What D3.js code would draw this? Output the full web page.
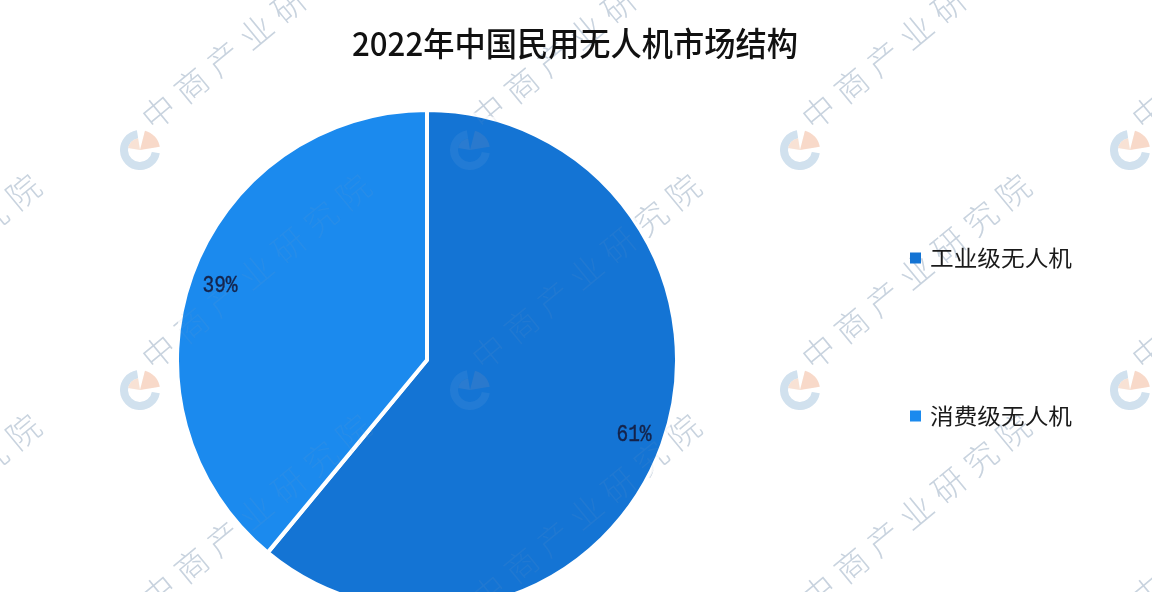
<!DOCTYPE html>
<html><head><meta charset="utf-8">
<script src="https://cdn.jsdelivr.net/npm/d3@7"></script>
<style>html,body{margin:0;padding:0;background:#fff;}svg{display:block;}</style>
</head><body>
<svg id="c" width="1152" height="592"></svg>
<script>
const title = "2022年中国民用无人机市场结构";
const categories = ["工业级无人机", "消费级无人机"];
const values = [61, 39];
const labels = ["61%", "39%"];
const colors = ["#1474d4", "#1b8aee"];
const watermarkText = "中商产业研究院";

const W = 1152, H = 592;
const svg = d3.select("#c");
svg.append("rect").attr("width", W).attr("height", H).attr("fill", "#ffffff");

const cx = 427, cy = 360, R = 250;

// watermarks (drawn in two passes: full under, faint over the pie)
const wmX = [-190, 140, 470, 800, 1130];
const wmY = [-90, 150, 390, 630];
const logoArc = d3.arc();
function drawWatermarks(opacity) {
  const wm = svg.append("g").attr("opacity", opacity).attr("pointer-events", "none");
  wmX.forEach(x => wmY.forEach(y => {
    const t = wm.append("g").attr("transform", `translate(${x},${y})`);
    t.append("path").attr("d", logoArc({innerRadius: 12, outerRadius: 20, startAngle: Math.PI * 0.55, endAngle: Math.PI * 1.95})).attr("fill", "#9ec0dc");
    t.append("path").attr("d", logoArc({innerRadius: 0, outerRadius: 20, startAngle: Math.PI * 0.08, endAngle: Math.PI * 0.45})).attr("fill", "#f0b090");
    t.append("path").attr("d", logoArc({innerRadius: 0, outerRadius: 12, startAngle: Math.PI * 1.55, endAngle: Math.PI * 1.95})).attr("fill", "#f0c4a8");
    t.append("text")
      .attr("transform", `translate(14,-18) rotate(-39.5)`)
      .attr("font-family", "Noto Sans CJK SC, sans-serif")
      .attr("font-size", 33).attr("font-weight", 300)
      .attr("letter-spacing", 9)
      .attr("fill", "#8ea4bc")
      .text(watermarkText);
  }));
}
drawWatermarks(0.42);

const pie = d3.pie().sort(null).value(d => d);
const arcs = pie(values);
const arc = d3.arc().innerRadius(0).outerRadius(R);
const labelArc = d3.arc().innerRadius(R * 0.88).outerRadius(R * 0.88);

const g = svg.append("g").attr("transform", `translate(${cx},${cy})`);
g.selectAll("path").data(arcs).join("path")
  .attr("d", arc)
  .attr("fill", (d, i) => colors[i])
  .attr("stroke", "#ffffff")
  .attr("stroke-width", 4)
  .attr("stroke-linejoin", "round");

drawWatermarks(0.1);

g.selectAll("text.lbl").data(arcs).join("text")
  .attr("class", "lbl")
  .attr("transform", d => { const [x, y] = labelArc.centroid(d); return `translate(${x},${y}) scale(0.85,1)`; })
  .attr("text-anchor", "middle")
  .attr("dominant-baseline", "central")
  .attr("font-family", "Liberation Mono, monospace")
  .attr("font-size", 23)
  .attr("fill", "#15234a")
  .attr("stroke", "#15234a").attr("stroke-width", 0.4)
  .text((d, i) => labels[i]);

// title
svg.append("text")
  .attr("x", 352).attr("y", 56)
  .attr("textLength", 446).attr("lengthAdjust", "spacingAndGlyphs")
  .attr("font-family", "Noto Sans CJK SC, sans-serif")
  .attr("font-size", 33).attr("font-weight", 500)
  .attr("fill", "#111111")
  .text(title);

// legend
const legY = [258, 416];
const lg = svg.append("g");
categories.forEach((c, i) => {
  lg.append("rect").attr("x", 910).attr("y", legY[i] - 5.5).attr("width", 11).attr("height", 11)
    .attr("fill", colors[i]);
  lg.append("text").attr("x", 930).attr("y", legY[i] + 8)
    .attr("textLength", 142).attr("lengthAdjust", "spacingAndGlyphs")
    .attr("font-family", "Noto Sans CJK SC, sans-serif")
    .attr("font-size", 22).attr("fill", "#1a1a1a")
    .text(c);
});
</script>
</body></html>
